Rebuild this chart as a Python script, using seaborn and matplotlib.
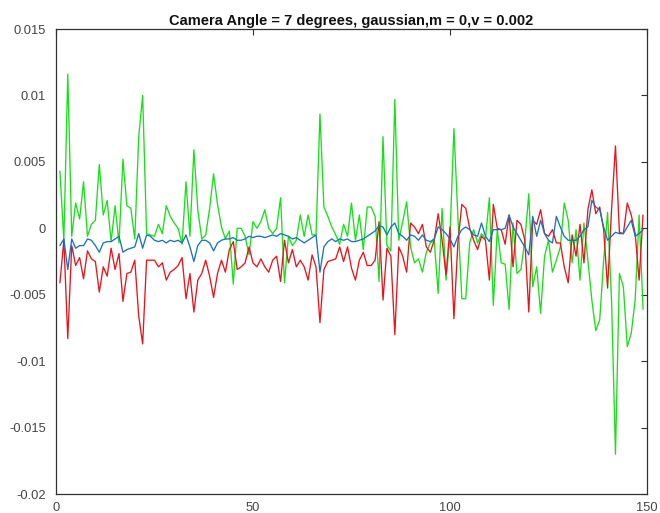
import numpy as np
import pandas as pd
import matplotlib
matplotlib.use("Agg")
import matplotlib.pyplot as plt
import seaborn as sns

title = "Camera Angle = 7 degrees, gaussian,m = 0,v = 0.002"
xticks = [0, 50, 100, 150]
yticks = [-0.02, -0.015, -0.01, -0.005, 0, 0.005, 0.01, 0.015]
ytick_labels = ["-0.02", "-0.015", "-0.01", "-0.005", "0", "0.005", "0.01", "0.015"]

green = [
    0.0043, -0.0009, 0.0116, -0.0006, 0.0019, 0.0007, 0.0035, -0.0006, 0.0003, 0.0006,
    0.0048, 0.0010, 0.0021, -0.0010, 0.0017, -0.0011, 0.0052, 0.0017, 0.0015, -0.0008,
    0.0069, 0.0100, -0.0004, -0.0005, -0.0006, 0.0003, -0.0004, 0.0017, 0.0009, 0.0004,
    0.0000, -0.0012, 0.0035, -0.0006, 0.0059, 0.0014, -0.0008, -0.0005, 0.0015, 0.0041,
    0.0018, 0.0001, -0.0008, -0.0002, -0.0042, 0.0000, 0.0000, -0.0006, -0.0020, 0.0005,
    0.0000, 0.0005, 0.0014, 0.0000, -0.0004, 0.0000, 0.0023, -0.0041, -0.0006, -0.0013,
    -0.0009, 0.0010, -0.0006, 0.0010, -0.0005, -0.0005, 0.0086, 0.0016, 0.0009, 0.0001,
    -0.0005, -0.0012, 0.0003, -0.0006, 0.0019, -0.0009, 0.0010, -0.0016, 0.0016, 0.0016,
    0.0009, -0.0040, 0.0069, -0.0013, -0.0017, 0.0097, -0.0009, 0.0005, 0.0020, -0.0014,
    -0.0026, -0.0023, -0.0033, -0.0018, -0.0011, -0.0009, -0.0049, 0.0015, -0.0039, -0.0006,
    0.0075, 0.0009, -0.0053, -0.0053, -0.0011, -0.0001, -0.0011, -0.0004, -0.0008, 0.0023,
    -0.0058, -0.0001, -0.0026, -0.0027, -0.0061, 0.0004, -0.0034, -0.0031, -0.0009, 0.0026,
    -0.0044, -0.0029, -0.0064, -0.0021, -0.0009, -0.0033, -0.0024, -0.0014, 0.0019, 0.0006,
    -0.0026, -0.0001, -0.0039, 0.0004, -0.0024, -0.0054, -0.0077, -0.0069, -0.0024, 0.0012,
    -0.0054, -0.0170, -0.0034, -0.0044, -0.0089, -0.0079, -0.0054, 0.0010, -0.0061,
]

red = [
    -0.0041, -0.0009, -0.0083, -0.0013, -0.0028, -0.0022, -0.0038, -0.0017, -0.0023, -0.0025,
    -0.0048, -0.0029, -0.0036, -0.0015, -0.0031, -0.0019, -0.0055, -0.0034, -0.0033, -0.0024,
    -0.0066, -0.0087, -0.0024, -0.0024, -0.0024, -0.0029, -0.0026, -0.0039, -0.0033, -0.0031,
    -0.0028, -0.0022, -0.0053, -0.0034, -0.0063, -0.0039, -0.0034, -0.0024, -0.0036, -0.0052,
    -0.0034, -0.0024, -0.0033, -0.0016, -0.0010, -0.0031, -0.0029, -0.0026, -0.0014, -0.0026,
    -0.0029, -0.0023, -0.0029, -0.0033, -0.0024, -0.0021, -0.0040, -0.0009, -0.0026, -0.0016,
    -0.0029, -0.0024, -0.0029, -0.0039, -0.0020, -0.0029, -0.0071, -0.0031, -0.0025, -0.0024,
    -0.0023, -0.0014, -0.0025, -0.0014, -0.0030, -0.0039, -0.0024, -0.0018, -0.0028, -0.0028,
    -0.0024, 0.0005, -0.0054, -0.0015, -0.0021, -0.0080, -0.0014, -0.0021, -0.0033, 0.0004,
    0.0001, -0.0004, 0.0003, -0.0014, -0.0018, -0.0009, 0.0011, -0.0009, -0.0035, 0.0001,
    -0.0068, -0.0011, 0.0018, 0.0015, 0.0000, -0.0009, -0.0016, -0.0006, -0.0009, -0.0039,
    0.0018, 0.0000, -0.0001, -0.0012, 0.0010, -0.0029, 0.0006, 0.0003, -0.0009, -0.0063,
    0.0006, 0.0003, 0.0014, -0.0004, -0.0006, -0.0001, -0.0011, -0.0011, -0.0029, -0.0041,
    -0.0005, -0.0021, 0.0003, -0.0026, 0.0014, 0.0029, 0.0011, 0.0016, -0.0001, -0.0045,
    0.0014, 0.0062, -0.0003, -0.0004, 0.0019, 0.0010, -0.0004, -0.0039, 0.0010,
]

blue = [
    -0.0013, -0.0008, -0.0031, -0.0008, -0.0015, -0.0013, -0.0013, -0.0008, -0.0009, -0.0013,
    -0.0018, -0.0011, -0.0010, -0.0010, -0.0008, -0.0006, -0.0018, -0.0016, -0.0015, -0.0014,
    -0.0004, -0.0015, -0.0005, -0.0006, -0.0009, -0.0010, -0.0009, -0.0011, -0.0009, -0.0010,
    -0.0009, -0.0011, -0.0005, -0.0014, -0.0025, -0.0013, -0.0009, -0.0009, -0.0011, -0.0017,
    -0.0011, -0.0009, -0.0008, -0.0008, -0.0007, -0.0009, -0.0009, -0.0008, -0.0006, -0.0007,
    -0.0006, -0.0006, -0.0007, -0.0006, -0.0005, -0.0006, -0.0004, -0.0005, -0.0006, -0.0008,
    -0.0007, -0.0009, -0.0011, -0.0009, -0.0007, -0.0005, -0.0033, -0.0014, -0.0010, -0.0008,
    -0.0010, -0.0008, -0.0009, -0.0008, -0.0010, -0.0010, -0.0009, -0.0008, -0.0006, -0.0004,
    -0.0002, 0.0002, 0.0001, -0.0005, 0.0001, 0.0004, -0.0004, -0.0006, -0.0009, -0.0005,
    -0.0006, -0.0009, -0.0005, -0.0009, -0.0010, -0.0008, 0.0001, -0.0001, -0.0004, -0.0008,
    -0.0014, -0.0006, -0.0001, 0.0001, -0.0001, -0.0005, -0.0006, 0.0004, -0.0006, -0.0010,
    -0.0001, -0.0001, -0.0001, 0.0000, 0.0010, 0.0001, -0.0004, -0.0009, -0.0014, -0.0020,
    0.0009, -0.0006, 0.0006, -0.0004, -0.0009, -0.0011, 0.0009, 0.0001, -0.0006, -0.0009,
    -0.0009, -0.0009, -0.0006, -0.0001, 0.0001, 0.0021, 0.0016, 0.0014, 0.0001, -0.0009,
    -0.0006, -0.0003, -0.0004, -0.0004, 0.0001, 0.0006, -0.0006, -0.0004, -0.0001,
]

x = np.arange(1, len(green) + 1)

sns.set_style("white")
plt.rcParams["font.family"] = ["Liberation Sans", "DejaVu Sans"]

fig = plt.figure(figsize=(6.6, 5.13), dpi=100)
ax = fig.add_axes([0.0848, 0.037, 0.8955, 0.9064])

sns.lineplot(x=x, y=green, ax=ax, color="#18e018", linewidth=0.95)
sns.lineplot(x=x, y=red, ax=ax, color="#e8141c", linewidth=0.95)
sns.lineplot(x=x, y=blue, ax=ax, color="#1a72bd", linewidth=0.95)

ax.set_xlim(0, 150)
ax.set_ylim(-0.02, 0.015)
ax.set_xticks(xticks)
ax.set_xticklabels([str(t) for t in xticks])
ax.set_yticks(yticks)
ax.set_yticklabels(ytick_labels)

for s in ax.spines.values():
    s.set_color("#303030")
    s.set_linewidth(0.9)
    s.set_visible(True)

ax.tick_params(direction="in", length=4, width=0.8, color="#303030",
               top=True, right=True, labelsize=9.3, labelcolor="#444444", pad=6)
ax.tick_params(axis="y", pad=7)
ax.tick_params(axis="x", pad=6)

ax.set_title(title, fontsize=10.5, fontweight="bold", color="#111111", pad=3)

fig.savefig("out.png", dpi=100)
